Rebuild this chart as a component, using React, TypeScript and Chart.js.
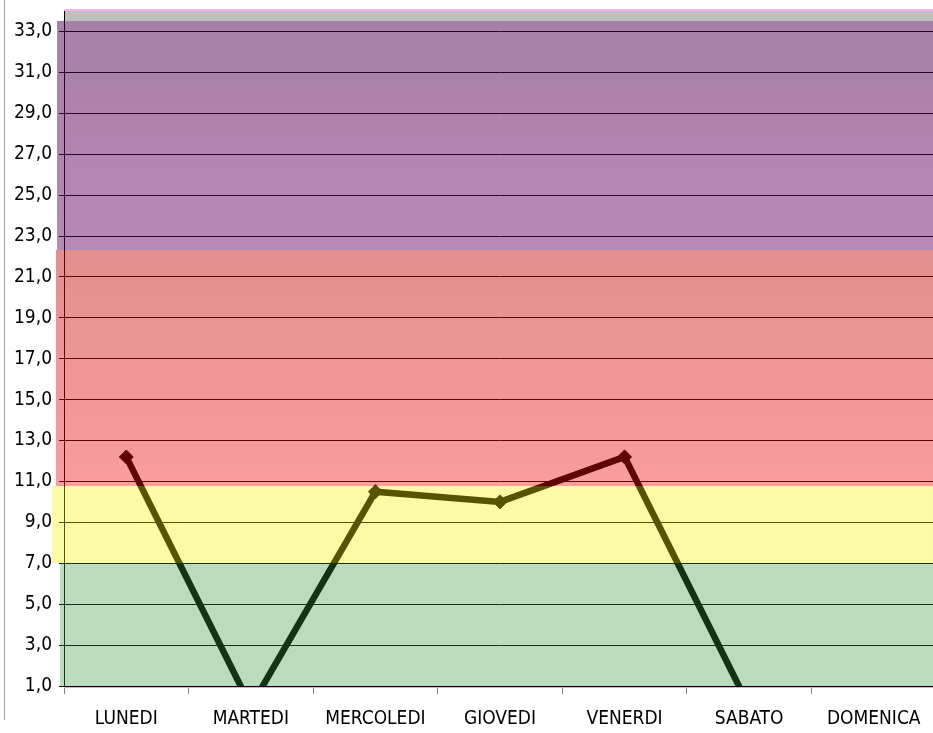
import React, { useEffect, useRef } from 'react';
import { Chart, registerables } from 'chart.js';

Chart.register(...registerables);

// ---- data ----
const categories = ['LUNEDI', 'MARTEDI', 'MERCOLEDI', 'GIOVEDI', 'VENERDI', 'SABATO', 'DOMENICA'];
const values: (number | null)[] = [12.2, 0, 10.5, 10.0, 12.2, 0, null];
const yTicks = [1, 3, 5, 7, 9, 11, 13, 15, 17, 19, 21, 23, 25, 27, 29, 31, 33];
const yMin = 1;
const yMax = 34;
// band limits: green 0-7, yellow 7-10.8, red 10.8-22.3, purple 22.3-33.5
const bandLimits = [0, 7, 10.8, 22.3, 33.5];

// ---- styles ----
const FONT = "'Liberation Sans Narrow', 'Arial Narrow', 'DejaVu Sans Condensed', sans-serif";
const PLOT_RIGHT = 936; // plot area runs slightly past the picture's right edge
const bandStyles = [
  { top: 'rgba(59,147,59,0.34)', bottom: 'rgba(59,147,59,0.34)', ext: 4 },
  { top: 'rgba(243,243,0,0.35)', bottom: 'rgba(243,243,0,0.35)', ext: 12 },
  { top: 'rgba(195,15,15,0.47)', bottom: 'rgba(240,10,15,0.40)', ext: 8 },
  { top: 'rgba(81,0,81,0.5)', bottom: 'rgba(97,0,97,0.463)', ext: 7 },
];

const widenPlugin = {
  id: 'widen',
  afterLayout(chart: any) {
    const x = chart.scales.x;
    x.right = PLOT_RIGHT;
    x.width = x.right - x.left;
    x.configure();
    chart.chartArea.right = PLOT_RIGHT;
    chart.chartArea.width = PLOT_RIGHT - chart.chartArea.left;
    const y = chart.scales.y;
    y.configure();
  },
};

const bandsPlugin = {
  id: 'bands',
  beforeDraw(chart: any) {
    const { ctx, chartArea, scales } = chart;
    const y = scales.y;
    ctx.save();
    ctx.fillStyle = '#ffffff';
    ctx.fillRect(0, 0, chart.width, chart.height);
    const gTop = Math.round(chartArea.top);
    const gBot = Math.round(y.getPixelForValue(bandLimits[bandLimits.length - 1]));
    ctx.fillStyle = '#c0c0c0';
    ctx.fillRect(chartArea.left, gTop, chartArea.right - chartArea.left, gBot - gTop);
    ctx.restore();
  },
  afterDatasetsDraw(chart: any) {
    const { ctx, chartArea, scales } = chart;
    const y = scales.y;
    ctx.save();
    for (let i = 0; i < bandStyles.length; i++) {
      const st = bandStyles[i];
      let pTop = Math.round(y.getPixelForValue(bandLimits[i + 1]));
      let pBot = Math.round(y.getPixelForValue(bandLimits[i]));
      pTop = Math.max(pTop, Math.round(chartArea.top));
      pBot = Math.min(pBot, Math.round(chartArea.bottom));
      if (pBot <= pTop) continue;
      const g = ctx.createLinearGradient(0, pTop, 0, pBot);
      g.addColorStop(0, st.top);
      g.addColorStop(1, st.bottom);
      ctx.fillStyle = g;
      const x0 = Math.round(chartArea.left) - st.ext;
      ctx.fillRect(x0, pTop, chartArea.right - x0, pBot - pTop);
    }
    // pink top and bottom edges
    ctx.fillStyle = '#f4b4f4';
    ctx.fillRect(chartArea.left, Math.round(chartArea.top) - 2, chartArea.right - chartArea.left, 2);
    ctx.fillStyle = '#e8a0e8';
    ctx.fillRect(chartArea.left, Math.round(chartArea.bottom) + 1, chartArea.right - chartArea.left, 1);
    ctx.restore();
  },
};

export default function App() {
  const ref = useRef<HTMLCanvasElement | null>(null);

  useEffect(() => {
    if (!ref.current) return;
    const chart = new Chart(ref.current, {
      type: 'line',
      data: {
        labels: categories,
        datasets: [
          {
            data: values,
            borderColor: '#000000',
            borderWidth: 6.5,
            backgroundColor: '#000000',
            pointStyle: 'rectRot',
            pointRadius: 7,
            pointBackgroundColor: '#000000',
            pointBorderColor: '#000000',
            pointBorderWidth: 1,
            tension: 0,
            spanGaps: false,
            clip: 0,
            fill: false,
          } as any,
        ],
      },
      options: {
        animation: false,
        responsive: false,
        devicePixelRatio: 1,
        layout: { autoPadding: false, padding: { top: 11, right: 0, left: 0, bottom: 0 } },
        plugins: {
          legend: { display: false },
          tooltip: { enabled: false },
        },
        scales: {
          x: {
            type: 'category',
            offset: true,
            grid: {
              offset: true,
              drawOnChartArea: false,
              drawTicks: true,
              tickLength: 8,
              color: '#808080',
            },
            border: { display: true, color: '#000000', width: 1 },
            ticks: {
              color: '#000000',
              font: { family: FONT, size: 19 },
              padding: 14,
              maxRotation: 0,
              autoSkip: false,
            },
            afterFit: (s: any) => {
              s.height = 47;
              s.paddingLeft = 0;
              s.paddingRight = 0;
            },
          },
          y: {
            type: 'linear',
            min: yMin,
            max: yMax,
            afterBuildTicks: (s: any) => {
              s.ticks = yTicks.map((v) => ({ value: v }));
            },
            grid: {
              color: '#000000',
              lineWidth: 1,
              tickLength: 5,
              drawTicks: true,
            },
            border: { display: true, color: '#000000', width: 1 },
            ticks: {
              color: '#000000',
              font: { family: FONT, size: 19 },
              padding: 7,
              autoSkip: false,
              callback: (v: any) => Number(v).toFixed(1).replace('.', ','),
            },
            afterFit: (s: any) => {
              s.width = 64;
              s.paddingTop = 0;
              s.paddingBottom = 0;
            },
          },
        },
      },
      plugins: [widenPlugin, bandsPlugin],
    });
    return () => chart.destroy();
  }, []);

  return (
    <div style={{ position: 'fixed', left: 0, top: 0, width: 933, height: 733, background: '#fff', overflow: 'hidden' }}>
      <canvas ref={ref} width={933} height={733} style={{ width: 933, height: 733, display: 'block' }} />
      <div style={{ position: 'absolute', left: 4, top: 0, width: 1, height: 720, background: '#a0a0a0' }} />
    </div>
  );
}
